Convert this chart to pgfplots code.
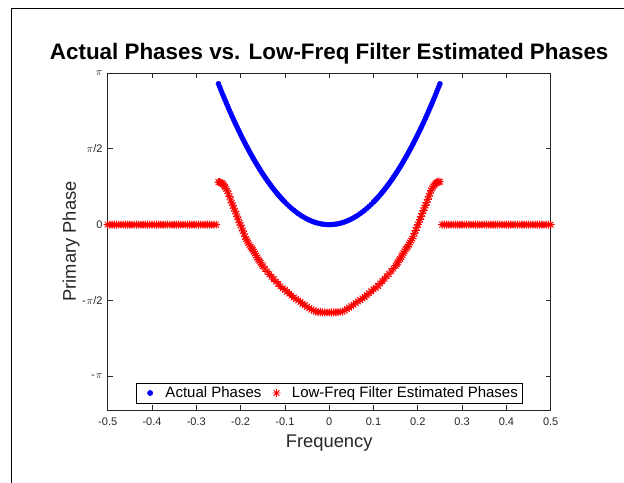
\documentclass[border=0pt]{standalone}
\usepackage{fontspec}
\setmainfont{Liberation Sans}
\usepackage{pgfplots}
\pgfplotsset{compat=1.18}
\definecolor{axgray}{rgb}{0.15,0.15,0.15}
\pgfdeclareplotmark{mstar}{%
 \pgfpathmoveto{\pgfqpoint{-\pgfplotmarksize}{0pt}}\pgfpathlineto{\pgfqpoint{\pgfplotmarksize}{0pt}}%
 \pgfpathmoveto{\pgfqpoint{0pt}{-\pgfplotmarksize}}\pgfpathlineto{\pgfqpoint{0pt}{\pgfplotmarksize}}%
 \pgfpathmoveto{\pgfqpoint{-.7071\pgfplotmarksize}{-.7071\pgfplotmarksize}}\pgfpathlineto{\pgfqpoint{.7071\pgfplotmarksize}{.7071\pgfplotmarksize}}%
 \pgfpathmoveto{\pgfqpoint{-.7071\pgfplotmarksize}{.7071\pgfplotmarksize}}\pgfpathlineto{\pgfqpoint{.7071\pgfplotmarksize}{-.7071\pgfplotmarksize}}%
 \pgfusepathqstroke}
\begin{document}
\begin{tikzpicture}
\useasboundingbox (0,0) rectangle (624bp,483bp);
\draw[line width=1.3bp] (11.5bp,0) -- (11.5bp,474.5bp) -- (624bp,474.5bp);
\begin{axis}[
  at={(107.7bp,73bp)}, anchor=south west,
  scale only axis, width=443bp, height=337bp,
  xmin=-0.5, xmax=0.5, ymin=-3.84, ymax=3.1416,
  clip=false,
  axis line style={draw=axgray, line width=0.75bp},
  tick style={draw=axgray, line width=0.75bp},
  major tick length=5bp, tick align=inside,
  xtick={-0.5,-0.4,-0.3,-0.2,-0.1,0,0.1,0.2,0.3,0.4,0.5},
  xticklabels={-0.5,-0.4,-0.3,-0.2,-0.1,0,0.1,0.2,0.3,0.4,0.5},
  ytick={-3.14159,-1.5708,0,1.5708,3.14159},
  yticklabels={-\kern1bp$\pi$, -\kern1bp$\pi$/2, 0, $\pi$/2, $\pi$},
  xticklabel style={font=\fontsize{11bp}{13bp}\selectfont, text=axgray, inner sep=0pt, anchor=north, yshift=-8bp},
  yticklabel style={font=\fontsize{11bp}{13bp}\selectfont, text=axgray, inner sep=0pt, anchor=east, xshift=-5bp},
  title={Actual Phases vs. Low-Freq Filter Estimated Phases},
  title style={font=\fontsize{22.4bp}{26bp}\selectfont\bfseries, at={(0.5,1)}, anchor=base, inner sep=0pt, yshift=8bp},
  xlabel={Frequency},
  xlabel style={font=\fontsize{18.35bp}{22bp}\selectfont, text=axgray, at={(axis description cs:0.5,-0.11)}, anchor=base, inner sep=0pt},
  ylabel={Primary Phase},
  ylabel style={font=\fontsize{18.35bp}{22bp}\selectfont, text=axgray, at={(axis description cs:-0.0716,0.5)}, anchor=base, inner sep=0pt, rotate=0},
  legend columns=-1,
  legend style={at={(0.5,0.02)}, anchor=south, draw=black, line width=0.75bp,
    font=\fontsize{15bp}{18bp}\selectfont, inner xsep=4.1bp, inner ysep=3.7bp,
    nodes={inner sep=0pt},
    /tikz/every odd column/.style={column sep=11bp},
    /tikz/every even column/.style={column sep=5.6bp}},
  legend image code/.code={\path (-9.2bp,0) (4bp,0); \draw[#1] plot coordinates {(0bp,0bp)};},
]
\addplot[only marks, mark=*, mark size=2.5bp, blue, mark options={draw=blue, fill=blue}] coordinates {
(-0.2500,2.9188) (-0.2475,2.8607) (-0.2450,2.8032) (-0.2425,2.7462) (-0.2400,2.6899) (-0.2375,2.6342) (-0.2350,2.5790) (-0.2325,2.5244) (-0.2300,2.4704) (-0.2275,2.4170)
(-0.2250,2.3642) (-0.2225,2.3119) (-0.2200,2.2603) (-0.2175,2.2092) (-0.2150,2.1587) (-0.2125,2.1088) (-0.2100,2.0595) (-0.2075,2.0107) (-0.2050,1.9626) (-0.2025,1.9150)
(-0.2000,1.8680) (-0.1975,1.8216) (-0.1950,1.7758) (-0.1925,1.7305) (-0.1900,1.6859) (-0.1875,1.6418) (-0.1850,1.5983) (-0.1825,1.5554) (-0.1800,1.5131) (-0.1775,1.4713)
(-0.1750,1.4302) (-0.1725,1.3896) (-0.1700,1.3496) (-0.1675,1.3102) (-0.1650,1.2714) (-0.1625,1.2332) (-0.1600,1.1955) (-0.1575,1.1585) (-0.1550,1.1220) (-0.1525,1.0861)
(-0.1500,1.0508) (-0.1475,1.0160) (-0.1450,0.9819) (-0.1425,0.9483) (-0.1400,0.9153) (-0.1375,0.8829) (-0.1350,0.8511) (-0.1325,0.8199) (-0.1300,0.7892) (-0.1275,0.7592)
(-0.1250,0.7297) (-0.1225,0.7008) (-0.1200,0.6725) (-0.1175,0.6448) (-0.1150,0.6176) (-0.1125,0.5911) (-0.1100,0.5651) (-0.1075,0.5397) (-0.1050,0.5149) (-0.1025,0.4906)
(-0.1000,0.4670) (-0.095,0.4215) (-0.090,0.3783) (-0.085,0.3374) (-0.080,0.2989) (-0.075,0.2627) (-0.070,0.2288) (-0.065,0.1973) (-0.060,0.1681) (-0.055,0.1413)
(-0.050,0.1168) (-0.045,0.0946) (-0.040,0.0747) (-0.035,0.0572) (-0.030,0.0420) (-0.025,0.0292) (-0.020,0.0187) (-0.015,0.0105) (-0.010,0.0047) (-0.005,0.0012)
(0,0)
(0.005,0.0012) (0.010,0.0047) (0.015,0.0105) (0.020,0.0187) (0.025,0.0292) (0.030,0.0420) (0.035,0.0572) (0.040,0.0747) (0.045,0.0946) (0.050,0.1168)
(0.055,0.1413) (0.060,0.1681) (0.065,0.1973) (0.070,0.2288) (0.075,0.2627) (0.080,0.2989) (0.085,0.3374) (0.090,0.3783) (0.095,0.4215) (0.1000,0.4670)
(0.1025,0.4906) (0.1050,0.5149) (0.1075,0.5397) (0.1100,0.5651) (0.1125,0.5911) (0.1150,0.6176) (0.1175,0.6448) (0.1200,0.6725) (0.1225,0.7008) (0.1250,0.7297)
(0.1275,0.7592) (0.1300,0.7892) (0.1325,0.8199) (0.1350,0.8511) (0.1375,0.8829) (0.1400,0.9153) (0.1425,0.9483) (0.1450,0.9819) (0.1475,1.0160) (0.1500,1.0508)
(0.1525,1.0861) (0.1550,1.1220) (0.1575,1.1585) (0.1600,1.1955) (0.1625,1.2332) (0.1650,1.2714) (0.1675,1.3102) (0.1700,1.3496) (0.1725,1.3896) (0.1750,1.4302)
(0.1775,1.4713) (0.1800,1.5131) (0.1825,1.5554) (0.1850,1.5983) (0.1875,1.6418) (0.1900,1.6859) (0.1925,1.7305) (0.1950,1.7758) (0.1975,1.8216) (0.2000,1.8680)
(0.2025,1.9150) (0.2050,1.9626) (0.2075,2.0107) (0.2100,2.0595) (0.2125,2.1088) (0.2150,2.1587) (0.2175,2.2092) (0.2200,2.2603) (0.2225,2.3119) (0.2250,2.3642)
(0.2275,2.4170) (0.2300,2.4704) (0.2325,2.5244) (0.2350,2.5790) (0.2375,2.6342) (0.2400,2.6899) (0.2425,2.7462) (0.2450,2.8032) (0.2475,2.8607) (0.2500,2.9188)
};
\addlegendentry{Actual Phases}
\addplot[only marks, mark=mstar, mark size=4bp, red, mark options={draw=red, line width=0.85bp}] coordinates {
(-0.500,0) (-0.495,0) (-0.490,0) (-0.485,0) (-0.480,0) (-0.475,0) (-0.470,0) (-0.465,0) (-0.460,0) (-0.455,0)
(-0.450,0) (-0.445,0) (-0.440,0) (-0.435,0) (-0.430,0) (-0.425,0) (-0.420,0) (-0.415,0) (-0.410,0) (-0.405,0)
(-0.400,0) (-0.395,0) (-0.390,0) (-0.385,0) (-0.380,0) (-0.375,0) (-0.370,0) (-0.365,0) (-0.360,0) (-0.355,0)
(-0.350,0) (-0.345,0) (-0.340,0) (-0.335,0) (-0.330,0) (-0.325,0) (-0.320,0) (-0.315,0) (-0.310,0) (-0.305,0)
(-0.300,0) (-0.295,0) (-0.290,0) (-0.285,0) (-0.280,0) (-0.275,0) (-0.270,0) (-0.265,0) (-0.260,0) (-0.255,0)
(-0.2500,0.88) (-0.2475,0.88) (-0.2450,0.87) (-0.2425,0.86) (-0.2400,0.84) (-0.2375,0.81) (-0.2350,0.78) (-0.2325,0.74) (-0.2300,0.70) (-0.2275,0.64)
(-0.2250,0.58) (-0.2225,0.51) (-0.2200,0.45) (-0.2175,0.39) (-0.2150,0.34) (-0.2125,0.28) (-0.2100,0.22) (-0.2075,0.16) (-0.2050,0.10) (-0.2025,0.04)
(-0.2000,-0.01) (-0.1975,-0.07) (-0.1950,-0.13) (-0.1925,-0.19) (-0.1900,-0.25) (-0.1875,-0.30) (-0.1850,-0.34) (-0.1825,-0.38) (-0.1800,-0.42) (-0.1775,-0.46)
(-0.1750,-0.49) (-0.1725,-0.52) (-0.1700,-0.56) (-0.1675,-0.60) (-0.1650,-0.64) (-0.1625,-0.68) (-0.1600,-0.72) (-0.1575,-0.75) (-0.1550,-0.79) (-0.1525,-0.83)
(-0.1500,-0.86) (-0.145,-0.92) (-0.140,-0.97) (-0.135,-1.03) (-0.130,-1.08) (-0.125,-1.13) (-0.120,-1.18) (-0.115,-1.23) (-0.110,-1.28) (-0.105,-1.32)
(-0.100,-1.35) (-0.095,-1.39) (-0.090,-1.43) (-0.085,-1.47) (-0.080,-1.51) (-0.075,-1.54) (-0.070,-1.57) (-0.065,-1.60) (-0.060,-1.64) (-0.055,-1.67)
(-0.050,-1.70) (-0.045,-1.73) (-0.040,-1.76) (-0.035,-1.78) (-0.030,-1.80) (-0.025,-1.81) (-0.020,-1.81) (-0.015,-1.82) (-0.010,-1.82) (-0.005,-1.82)
(0,-1.82)
(0.005,-1.82) (0.010,-1.82) (0.015,-1.82) (0.020,-1.81) (0.025,-1.81) (0.030,-1.80) (0.035,-1.78) (0.040,-1.75) (0.045,-1.72) (0.050,-1.69)
(0.055,-1.66) (0.060,-1.63) (0.065,-1.59) (0.070,-1.56) (0.075,-1.53) (0.080,-1.50) (0.085,-1.46) (0.090,-1.42) (0.095,-1.38) (0.100,-1.34)
(0.105,-1.31) (0.110,-1.27) (0.115,-1.22) (0.120,-1.17) (0.125,-1.12) (0.130,-1.07) (0.135,-1.02) (0.140,-0.96) (0.145,-0.91) (0.1500,-0.85)
(0.1525,-0.82) (0.1550,-0.78) (0.1575,-0.74) (0.1600,-0.71) (0.1625,-0.67) (0.1650,-0.63) (0.1675,-0.59) (0.1700,-0.55) (0.1725,-0.51) (0.1750,-0.48)
(0.1775,-0.45) (0.1800,-0.41) (0.1825,-0.37) (0.1850,-0.33) (0.1875,-0.29) (0.1900,-0.24) (0.1925,-0.18) (0.1950,-0.12) (0.1975,-0.06) (0.2000,0.00)
(0.2025,0.05) (0.2050,0.11) (0.2075,0.17) (0.2100,0.23) (0.2125,0.29) (0.2150,0.35) (0.2175,0.40) (0.2200,0.46) (0.2225,0.52) (0.2250,0.59)
(0.2275,0.65) (0.2300,0.71) (0.2325,0.75) (0.2350,0.79) (0.2375,0.82) (0.2400,0.85) (0.2425,0.87) (0.2450,0.88) (0.2475,0.89) (0.2500,0.89)
(0.255,0) (0.260,0) (0.265,0) (0.270,0) (0.275,0) (0.280,0) (0.285,0) (0.290,0) (0.295,0) (0.300,0)
(0.305,0) (0.310,0) (0.315,0) (0.320,0) (0.325,0) (0.330,0) (0.335,0) (0.340,0) (0.345,0) (0.350,0)
(0.355,0) (0.360,0) (0.365,0) (0.370,0) (0.375,0) (0.380,0) (0.385,0) (0.390,0) (0.395,0) (0.400,0)
(0.405,0) (0.410,0) (0.415,0) (0.420,0) (0.425,0) (0.430,0) (0.435,0) (0.440,0) (0.445,0) (0.450,0)
(0.455,0) (0.460,0) (0.465,0) (0.470,0) (0.475,0) (0.480,0) (0.485,0) (0.490,0) (0.495,0) (0.500,0)
};
\addlegendentry{Low-Freq Filter Estimated Phases}
\end{axis}
\end{tikzpicture}
\end{document}
